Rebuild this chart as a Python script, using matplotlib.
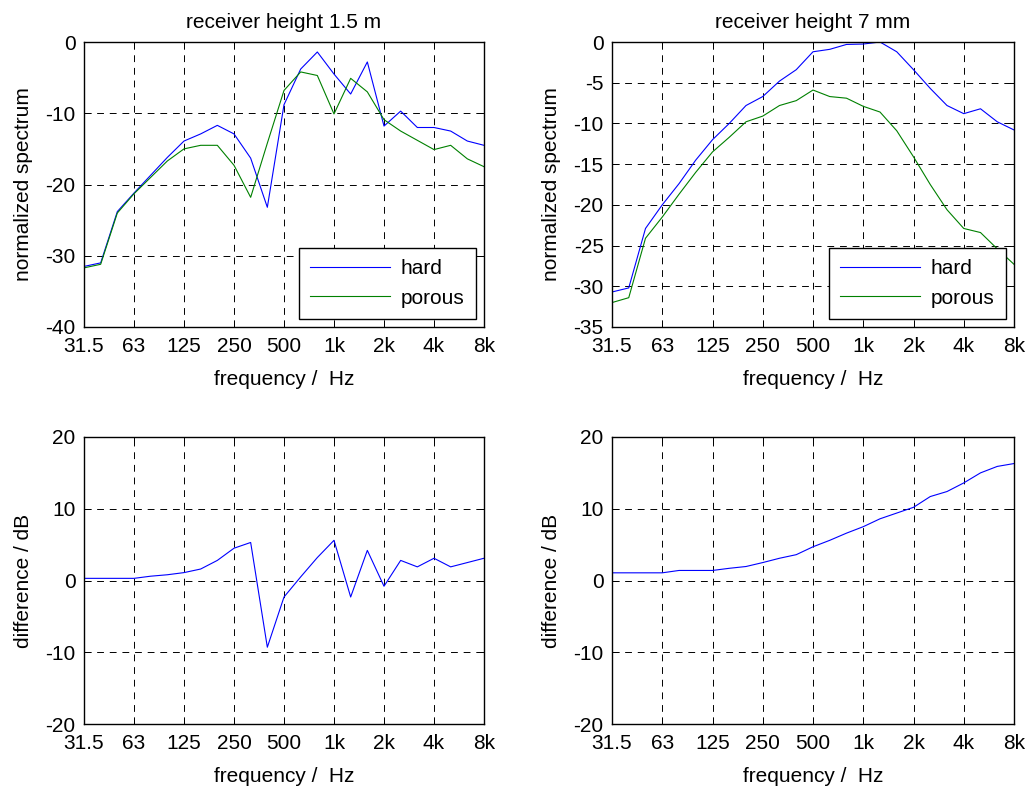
import numpy as np
import matplotlib
matplotlib.use("Agg")
import matplotlib.pyplot as plt

plt.rcParams['font.family'] = ['Liberation Sans', 'DejaVu Sans']
plt.rcParams['font.size'] = 15
plt.rcParams['axes.unicode_minus'] = False

# third-octave bands 31.5 Hz .. 8 kHz
bands = ["31.5", "40", "50", "63", "80", "100", "125", "160", "200", "250", "315", "400", "500",
         "630", "800", "1k", "1.25k", "1.6k", "2k", "2.5k", "3.15k", "4k", "5k", "6.3k", "8k"]
tick_labels = ["31.5", "63", "125", "250", "500", "1k", "2k", "4k", "8k"]

# receiver height 1.5 m
hard_15 = [-31.5, -31.0, -23.8, -21.2, -18.7, -16.2, -13.9, -12.9, -11.7, -12.9, -16.3, -23.2, -8.8,
           -3.8, -1.4, -4.5, -7.3, -2.8, -11.8, -9.7, -12.0, -12.0, -12.5, -13.9, -14.5]
porous_15 = [-31.7, -31.2, -24.0, -21.3, -19.0, -16.7, -15.0, -14.5, -14.5, -17.3, -21.8, -14.2, -6.8,
             -4.2, -4.7, -10.1, -5.1, -7.0, -10.9, -12.5, -13.8, -15.1, -14.5, -16.4, -17.5]
diff_15 = [0.3, 0.3, 0.3, 0.3, 0.6, 0.8, 1.1, 1.6, 2.8, 4.5, 5.3, -9.3, -2.3,
           0.5, 3.2, 5.6, -2.3, 4.2, -0.8, 2.8, 1.9, 3.1, 1.9, 2.5, 3.1]

# receiver height 7 mm
hard_7 = [-30.7, -30.2, -22.9, -20.0, -17.4, -14.5, -12.0, -10.0, -7.8, -6.7, -4.8, -3.4, -1.2,
          -0.9, -0.3, -0.25, 0.0, -1.2, -3.4, -5.7, -7.8, -8.8, -8.2, -9.8, -10.8]
porous_7 = [-32.0, -31.4, -24.1, -21.5, -18.7, -16.0, -13.5, -11.7, -9.8, -9.1, -7.8, -7.2, -5.9,
            -6.7, -6.9, -7.9, -8.6, -10.9, -14.1, -17.5, -20.6, -22.9, -23.4, -25.4, -27.3]
diff_7 = [1.07, 1.07, 1.07, 1.07, 1.4, 1.4, 1.4, 1.7, 1.95, 2.5, 3.1, 3.6, 4.7,
          5.6, 6.6, 7.5, 8.6, 9.4, 10.2, 11.7, 12.4, 13.6, 15.0, 15.9, 16.3]

x = np.arange(len(bands))
blue = (0, 0, 1)
green = (0, 0.5, 0)

fig = plt.figure(figsize=(10.34, 7.89), dpi=100)
W, H = 1034, 789
def add_ax(l, t, r, b):
    return fig.add_axes([l / W, 1 - b / H, (r - l) / W, (b - t) / H])

ax1 = add_ax(84, 42, 484, 327)
ax2 = add_ax(612, 42, 1014, 327)
ax3 = add_ax(84, 437, 484, 724)
ax4 = add_ax(612, 437, 1014, 724)

def style(ax, ylim, yticks, ylabel):
    ax.set_xlim(0, len(bands) - 1)
    ax.set_xticks(x[::3])
    ax.set_xticklabels(tick_labels)
    ax.set_ylim(*ylim)
    ax.set_yticks(yticks)
    ax.set_ylabel(ylabel, labelpad=9)
    ax.set_xlabel("frequency /  Hz", labelpad=10)
    ax.grid(True, color='k', linestyle=(0, (7, 6)), linewidth=0.7)
    ax.tick_params(direction='in', top=True, right=True, length=5, width=0.7)
    ax.tick_params(axis='x', pad=7)
    ax.tick_params(axis='y', pad=6)
    for s in ax.spines.values():
        s.set_linewidth(1.0)

ax1.plot(x, hard_15, color=blue, lw=0.8, label="hard")
ax1.plot(x, porous_15, color=green, lw=0.8, label="porous")
style(ax1, (-40, 0), np.arange(-40, 1, 10), "normalized spectrum")
ax1.set_title("receiver height 1.5 m", fontsize=15, pad=10)

ax2.plot(x, hard_7, color=blue, lw=0.8, label="hard")
ax2.plot(x, porous_7, color=green, lw=0.8, label="porous")
style(ax2, (-35, 0), np.arange(-35, 1, 5), "normalized spectrum")
ax2.set_title("receiver height 7 mm", fontsize=15, pad=10)

ax3.plot(x, diff_15, color=blue, lw=0.8)
style(ax3, (-20, 20), np.arange(-20, 21, 10), "difference / dB")

ax4.plot(x, diff_7, color=blue, lw=0.8)
style(ax4, (-20, 20), np.arange(-20, 21, 10), "difference / dB")

for ax in (ax1, ax2):
    leg = ax.legend(loc='lower right', fancybox=False, framealpha=1, edgecolor='k',
                    handlelength=3.85, handletextpad=0.5, borderaxespad=0.38,
                    labelspacing=0.5, borderpad=0.55)
    leg.get_frame().set_linewidth(1.0)

fig.savefig("out.png", dpi=100)
